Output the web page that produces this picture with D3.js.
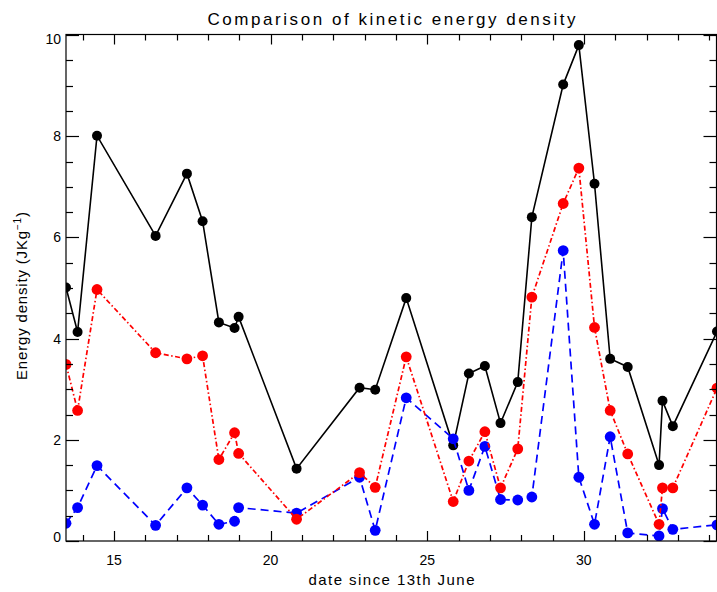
<!DOCTYPE html>
<html>
<head>
<meta charset="utf-8">
<script src="https://cdn.jsdelivr.net/npm/d3@7"></script>
<style>
  html, body { margin: 0; padding: 0; background: #fff; }
  svg { display: block; }
  text { font-family: "Liberation Sans", Arial, sans-serif; fill: #000; }
</style>
</head>
<body>
<svg id="chart" width="717" height="592"></svg>
<script>
// ---- data ----
const dates = [13.47, 13.84, 14.46, 16.33, 17.33, 17.83, 18.35, 18.85, 18.98, 20.83,
               22.84, 23.34, 24.33, 25.83, 26.33, 26.84, 27.34, 27.89, 28.34, 29.34,
               29.84, 30.34, 30.84, 31.40, 32.40, 32.51, 32.84, 34.25];
const blackValues = [5.01, 4.13, 8.01, 6.03, 7.26, 6.32, 4.32, 4.21, 4.43, 1.43,
                     3.03, 2.99, 4.80, 1.89, 3.31, 3.46, 2.33, 3.14, 6.40, 9.02,
                     9.80, 7.06, 3.60, 3.44, 1.50, 2.77, 2.27, 4.14];
const redValues = [3.49, 2.58, 4.97, 3.72, 3.60, 3.66, 1.61, 2.14, 1.73, 0.43,
                   1.35, 1.06, 3.64, 0.78, 1.58, 2.16, 1.05, 1.82, 4.82, 6.67,
                   7.37, 4.22, 2.58, 1.72, 0.33, 1.05, 1.05, 3.02];
const blueValues = [0.35, 0.66, 1.49, 0.31, 1.05, 0.71, 0.33, 0.39, 0.66, 0.55,
                    1.26, 0.21, 2.83, 2.02, 1.00, 1.87, 0.82, 0.81, 0.87, 5.74,
                    1.26, 0.33, 2.06, 0.16, 0.10, 0.64, 0.23, 0.32];
const xMajorTicks = [15, 20, 25, 30];
const xMinorTicks = d3.range(14, 35, 1);
const yMajorTicks = [0, 2, 4, 6, 8, 10];
const yMinorTicks = d3.range(0, 10.01, 0.5);
const titleText = "Comparison of kinetic energy density";
const xTitle = "date since 13th June";

// ---- layout ----
const L = 66, R = 716.5, T = 34.5, B = 541;
const svg = d3.select("#chart");
const x = d3.scaleLinear().domain([13.47, 34.25]).range([L, 717]);
const y = d3.scaleLinear().domain([0, 10]).range([B, 35]);

svg.append("defs").append("clipPath").attr("id", "plotclip")
  .append("rect").attr("x", L).attr("y", T).attr("width", R - L).attr("height", B - T);

const plot = svg.append("g").attr("clip-path", "url(#plotclip)");

const series = [
  { vals: blackValues, color: "#000000", dash: null, r: 5, w: 1.6 },
  { vals: blueValues, color: "#0000ff", dash: "8,5", r: 5.4, w: 1.7 },
  { vals: redValues, color: "#ff0000", dash: "5,2.5,1.5,2.5", r: 5.4, w: 1.7 }
];

const line = d3.line().x(d => x(d[0])).y(d => y(d[1]));
series.forEach(s => {
  const pts = dates.map((d, i) => [d, s.vals[i]]);
  plot.append("path").datum(pts)
    .attr("d", line).attr("fill", "none")
    .attr("stroke", s.color).attr("stroke-width", s.w)
    .attr("stroke-dasharray", s.dash);
  plot.selectAll(null).data(pts).enter().append("circle")
    .attr("cx", d => x(d[0])).attr("cy", d => y(d[1]))
    .attr("r", s.r).attr("fill", s.color);
});

// ---- frame and ticks ----
const ax = svg.append("g").attr("stroke", "#000").attr("stroke-width", 1.2);
ax.append("rect").attr("x", L).attr("y", T).attr("width", R - L).attr("height", B - T)
  .attr("fill", "none");

xMinorTicks.forEach(v => {
  const len = xMajorTicks.includes(v) ? 10 : 6;
  const px = Math.round(x(v)) + 0.5;
  ax.append("line").attr("x1", px).attr("x2", px).attr("y1", B).attr("y2", B - len);
  ax.append("line").attr("x1", px).attr("x2", px).attr("y1", T).attr("y2", T + len);
});
yMinorTicks.forEach(v => {
  const len = yMajorTicks.includes(v) ? 13 : 7;
  const py = Math.round(y(v)) + 0.5;
  ax.append("line").attr("x1", L).attr("x2", L + len).attr("y1", py).attr("y2", py);
  ax.append("line").attr("x1", R).attr("x2", R - len).attr("y1", py).attr("y2", py);
});

// ---- labels ----
xMajorTicks.forEach(v => {
  svg.append("text").attr("x", x(v)).attr("y", 565)
    .attr("text-anchor", "middle").attr("font-size", 14).text(v);
});
yMajorTicks.forEach(v => {
  const shift = v === 0 ? -4 : (v === 10 ? 4 : 0);
  svg.append("text").attr("x", 61).attr("y", y(v) + shift)
    .attr("dy", "0.36em").attr("text-anchor", "end").attr("font-size", 14).text(v);
});

svg.append("text").attr("x", 391.5).attr("y", 25)
  .attr("text-anchor", "middle").attr("font-size", 17)
  .attr("textLength", 368).attr("lengthAdjust", "spacing").text(titleText);

svg.append("text").attr("x", 391.5).attr("y", 585)
  .attr("text-anchor", "middle").attr("font-size", 15)
  .attr("textLength", 166).attr("lengthAdjust", "spacing").text(xTitle);

const yt = svg.append("text").attr("transform", "translate(27,296) rotate(-90)")
  .attr("text-anchor", "middle").attr("font-size", 15)
  .attr("textLength", 168).attr("lengthAdjust", "spacing");
yt.append("tspan").text("Energy density (JKg");
yt.append("tspan").attr("font-size", 10).attr("dy", -6).text("−1");
yt.append("tspan").attr("dy", 6).text(")");
</script>
</body>
</html>
